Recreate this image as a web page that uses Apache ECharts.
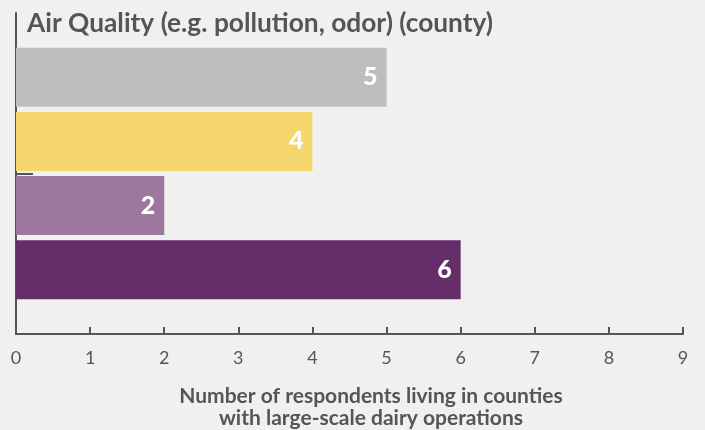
<!DOCTYPE html>
<html>
<head>
<meta charset="utf-8">
<script src="https://cdn.jsdelivr.net/npm/echarts@6/dist/echarts.min.js"></script>
<style>
  html, body { margin: 0; padding: 0; background: #f0f0f0; }
  #main { width: 705px; height: 430px; }
</style>
</head>
<body>
<div id="main"></div>
<script>
// rows top to bottom, empty slot above and below keeps the axis frame open
var categories = ['', 'a', 'b', 'c', 'd', '']
var values = [null, 5, 4, 2, 6, null]
var barColors = ['#f0f0f0', '#bdbec0', '#f5d76e', '#9d789e', '#652d69', '#f0f0f0']
var xTicks = [0, 1, 2, 3, 4, 5, 6, 7, 8, 9]

var axisColor = '#555555'
var font = 'Lato, "Open Sans", sans-serif'

var chart = echarts.init(document.getElementById('main'))
var option = {
    backgroundColor: '#f0f0f0',
    animation: false,
    title: {
        text: 'Air Quality (e.g. pollution, odor) (county)',
        left: 22,
        top: 6,
        textStyle: { color: axisColor, fontSize: 26.3, fontWeight: 'bold', fontFamily: font }
    },
    grid: { left: 16, top: 13, width: 667, height: 321, outerBoundsMode: 'none' },
    xAxis: {
        type: 'value',
        min: xTicks[0],
        max: xTicks[xTicks.length - 1],
        interval: 1,
        splitLine: { show: false },
        axisLine: { show: true, lineStyle: { color: axisColor, width: 2 } },
        axisTick: { show: true, inside: true, length: 7, lineStyle: { color: axisColor, width: 2 } },
        axisLabel: { color: axisColor, fontSize: 18, fontFamily: font, margin: 15 },
        name: 'Number of respondents living in counties\nwith large-scale dairy operations',
        nameLocation: 'middle',
        nameGap: 51,
        nameTextStyle: {
            color: axisColor, fontSize: 21, fontWeight: 'bold', fontFamily: font,
            lineHeight: 22, align: 'center', padding: [0, 0, 0, 43]
        }
    },
    yAxis: [
        {
            type: 'category',
            data: categories,
            inverse: true,
            boundaryGap: false,
            axisLine: { show: true, lineStyle: { color: axisColor, width: 2 } },
            axisTick: { show: false },
            axisLabel: { show: false }
        },
        {
            // lone divider tick half way down the axis
            type: 'category',
            data: ['', '', ''],
            boundaryGap: false,
            position: 'left',
            axisLine: { show: false },
            axisTick: {
                show: true, inside: true, length: 17,
                interval: function (i) { return i === 1 },
                lineStyle: { color: axisColor, width: 2 }
            },
            axisLabel: { show: false }
        }
    ],
    series: [
        {
            type: 'bar',
            yAxisIndex: 0,
            barWidth: 59,
            data: values.map(function (v, i) {
                return { value: v, itemStyle: { color: barColors[i] } }
            }),
            label: {
                show: true,
                position: 'insideRight',
                distance: 9,
                color: '#ffffff',
                fontSize: 25,
                fontWeight: 900,
                fontFamily: font
            }
        }
    ]
}
option && chart.setOption(option)
</script>
</body>
</html>
